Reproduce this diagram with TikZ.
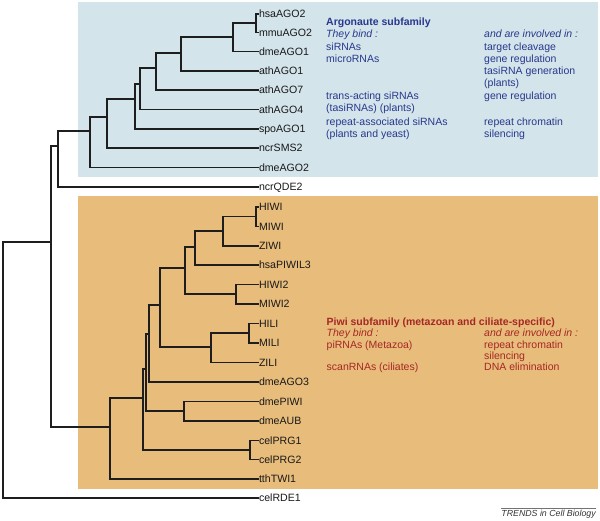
\documentclass[tikz,border=0pt]{standalone}
\usepackage{fontspec}
\setmainfont{Liberation Sans}
\newcommand\leaffont{\fontsize{10.6}{12}\selectfont}
\newcommand\txtfont{\fontsize{10.5}{12}\selectfont}
\definecolor{bluebox}{RGB}{211,228,235}
\definecolor{orangebox}{RGB}{232,188,122}
\definecolor{bluetxt}{RGB}{40,56,140}
\definecolor{redtxt}{RGB}{165,40,38}
\definecolor{treecol}{RGB}{30,30,30}
\definecolor{labelcol}{RGB}{25,25,25}
\tikzset{
  leaf/.style={anchor=west, inner sep=0.8pt, font=\leaffont, text height=7.5pt, text depth=0pt, text=labelcol},
  br/.style={line width=1.5pt, draw=treecol, line cap=rect},
  bt/.style={anchor=base west, inner sep=0pt, font=\txtfont, text=bluetxt},
  rt/.style={anchor=base west, inner sep=0pt, font=\txtfont, text=redtxt},
}
\begin{document}
\begin{tikzpicture}[x=1pt,y=-1pt]
\useasboundingbox (0,0) rectangle (600,521);
% background boxes
\fill[bluebox] (78,2) rectangle (598,177);
\fill[orangebox] (78,196) rectangle (598,489);

% leaves
\node[leaf] (hsaAGO2) at (258,14) {hsaAGO2};
\node[leaf] (mmuAGO2) at (258,32.5) {mmuAGO2};
\node[leaf] (dmeAGO1) at (258,51.5) {dmeAGO1};
\node[leaf] (athAGO1) at (258,71) {athAGO1};
\node[leaf] (athAGO7) at (258,90) {athAGO7};
\node[leaf] (athAGO4) at (258,109.5) {athAGO4};
\node[leaf] (spoAGO1) at (258,129) {spoAGO1};
\node[leaf] (ncrSMS2) at (258,148) {ncrSMS2};
\node[leaf] (dmeAGO2) at (258,167.5) {dmeAGO2};
\node[leaf] (ncrQDE2) at (258,187) {ncrQDE2};
\node[leaf] (HIWI) at (258,207) {HIWI};
\node[leaf] (MIWI) at (258,226.5) {MIWI};
\node[leaf] (ZIWI) at (258,246) {ZIWI};
\node[leaf] (hsaPIWIL3) at (258,265) {hsaPIWIL3};
\node[leaf] (HIWI2) at (258,284.5) {HIWI2};
\node[leaf] (MIWI2) at (258,304) {MIWI2};
\node[leaf] (HILI) at (258,323.5) {HILI};
\node[leaf] (MILI) at (258,343) {MILI};
\node[leaf] (ZILI) at (258,362.5) {ZILI};
\node[leaf] (dmeAGO3) at (258,382) {dmeAGO3};
\node[leaf] (dmePIWI) at (258,401.5) {dmePIWI};
\node[leaf] (dmeAUB) at (258,421) {dmeAUB};
\node[leaf] (celPRG1) at (258,440.5) {celPRG1};
\node[leaf] (celPRG2) at (258,459.5) {celPRG2};
\node[leaf] (tthTWI1) at (258,479) {tthTWI1};
\node[leaf] (celRDE1) at (258,498) {celRDE1};

% internal nodes
\coordinate (A1) at (256,23);
\coordinate (A2) at (233,37);
\coordinate (A3) at (181,53);
\coordinate (A4) at (156,68);
\coordinate (A5) at (140,84);
\coordinate (A6) at (135,99);
\coordinate (A7) at (107,117);
\coordinate (A8) at (90,131);
\coordinate (A9) at (58,146);
\coordinate (A10) at (51,242);
\coordinate (R) at (3,370);
\coordinate (P1) at (256,216.5);
\coordinate (P2) at (223,231);
\coordinate (P3) at (195,247);
\coordinate (P4) at (236,294);
\coordinate (P5) at (185,268);
\coordinate (P6) at (249,333);
\coordinate (P7) at (211,347);
\coordinate (P8) at (160,305);
\coordinate (P9) at (149,334);
\coordinate (P10) at (184,411);
\coordinate (P11) at (146,369);
\coordinate (P12) at (250,450);
\coordinate (P13) at (143,398);
\coordinate (P14) at (110,427);

% branches
\draw[br] (hsaAGO2.west) -| (A1) |- (mmuAGO2.west);
\draw[br] (A1) -| (A2) |- (dmeAGO1.west);
\draw[br] (A2) -| (A3) |- (athAGO1.west);
\draw[br] (A3) -| (A4) |- (athAGO7.west);
\draw[br] (A4) -| (A5) |- (athAGO4.west);
\draw[br] (A5) -| (A6) |- (spoAGO1.west);
\draw[br] (A6) -| (A7) |- (ncrSMS2.west);
\draw[br] (A7) -| (A8) |- (dmeAGO2.west);
\draw[br] (A8) -| (A9) |- (ncrQDE2.west);
\draw[br] (HIWI.west) -| (P1) |- (MIWI.west);
\draw[br] (P1) -| (P2) |- (ZIWI.west);
\draw[br] (P2) -| (P3) |- (hsaPIWIL3.west);
\draw[br] (HIWI2.west) -| (P4) |- (MIWI2.west);
\draw[br] (P3) -| (P5) |- (P4);
\draw[br] (HILI.west) -| (P6) |- (MILI.west);
\draw[br] (P6) -| (P7) |- (ZILI.west);
\draw[br] (P5) -| (P8) |- (P7);
\draw[br] (P8) -| (P9) |- (dmeAGO3.west);
\draw[br] (dmePIWI.west) -| (P10) |- (dmeAUB.west);
\draw[br] (P9) -| (P11) |- (P10);
\draw[br] (celPRG1.west) -| (P12) |- (celPRG2.west);
\draw[br] (P11) -| (P13) |- (P12);
\draw[br] (P13) -| (P14) |- (tthTWI1.west);
\draw[br] (A9) -| (A10) |- (P14);
\draw[br] (A10) -| (R) |- (celRDE1.west);

% Argonaute text
\node[bt,font=\txtfont\bfseries] (agt) at (326,26) {Argonaute subfamily};
\node[bt,font=\txtfont\itshape] (ab0) at (326,37.3) {They bind :};
\node[bt,font=\txtfont\itshape] (ai0) at (484,37.3) {and are involved in :};
\node[bt] (ab1) at (326,51) {siRNAs};
\node[bt] (ai1) at (484,51) {target cleavage};
\node[bt] (ab2) at (326,62.6) {microRNAs};
\node[bt] (ai2) at (484,62.6) {gene regulation};
\node[bt] (ai3) at (484,74.6) {tasiRNA generation};
\node[bt] (ai4) at (484,86.6) {(plants)};
\node[bt] (ab3) at (326,100) {trans-acting siRNAs};
\node[bt] (ai5) at (484,100) {gene regulation};
\node[bt] (ab4) at (326,112) {(tasiRNAs) (plants)};
\node[bt] (ab5) at (326,126) {repeat-associated siRNAs};
\node[bt] (ai6) at (484,126) {repeat chromatin};
\node[bt] (ab6) at (326,137.6) {(plants and yeast)};
\node[bt] (ai7) at (484,137.6) {silencing};

% Piwi text
\node[rt,font=\txtfont\bfseries] (pwt) at (326.5,325.6) {Piwi subfamily (metazoan and ciliate-specific)};
\node[rt,font=\txtfont\itshape] (pb0) at (326.5,336.6) {They bind :};
\node[rt,font=\txtfont\itshape] (pi0) at (484,336.6) {and are involved in :};
\node[rt] (pb1) at (326.5,348.3) {piRNAs (Metazoa)};
\node[rt] (pi1) at (484,348.3) {repeat chromatin};
\node[rt] (pi2) at (484,360) {silencing};
\node[rt] (pb2) at (326.5,370.6) {scanRNAs (ciliates)};
\node[rt] (pi3) at (484,370.6) {DNA elimination};

% credit
\node[anchor=base east, inner xsep=0pt, inner ysep=1.5pt, font=\fontsize{8.8}{10}\selectfont\itshape, text=black!80] (trends) at (596,516) {TRENDS in Cell Biology};
\draw[line width=0.6pt, draw=black!55] (trends.north west) -- (trends.north east);
\end{tikzpicture}
\end{document}
